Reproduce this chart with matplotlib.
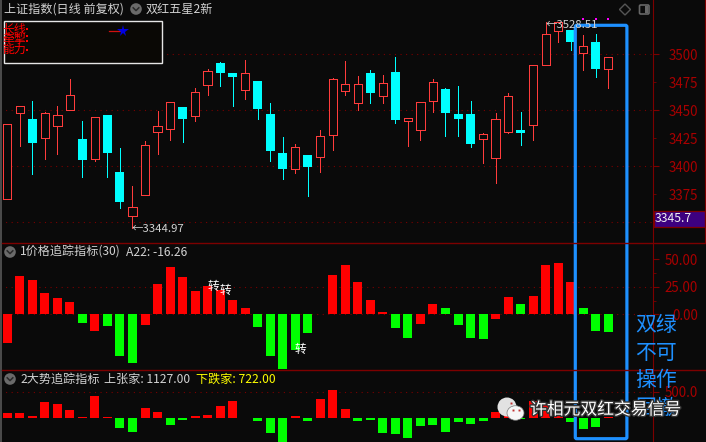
import matplotlib
matplotlib.use('Agg')
import matplotlib.pyplot as plt
import matplotlib.patheffects as pe
from matplotlib.patches import Rectangle, FancyBboxPatch, Circle, Ellipse, Polygon

plt.rcParams['font.family'] = ['Noto Sans CJK SC', 'DejaVu Sans']

# candles
opens = [3370.5, 3447.3, 3442.3, 3425.0, 3435.7, 3450.0, 3424.1, 3406.2, 3445.5, 3394.6,
         3355.4, 3374.1, 3430.4, 3433.0, 3452.7, 3444.6, 3472.3, 3492.0, 3483.0, 3467.9,
         3475.9, 3446.4, 3411.6, 3397.3, 3409.8, 3408.0, 3427.7, 3467.0, 3456.2, 3483.0,
         3462.5, 3483.9, 3440.2, 3432.1, 3458.0, 3468.7, 3446.4, 3446.4, 3424.1, 3407.1,
         3430.4, 3432.1, 3436.6, 3490.2, 3520.5, 3521.4, 3500.9, 3510.7, 3486.6]
closes = [3437.5, 3453.6, 3421.1, 3447.3, 3445.5, 3463.4, 3406.0, 3443.7, 3412.2, 3368.5,
          3364.0, 3418.7, 3435.7, 3457.1, 3442.6, 3466.1, 3484.8, 3483.6, 3480.1, 3483.0,
          3451.5, 3414.0, 3397.9, 3417.0, 3399.7, 3426.8, 3477.7, 3473.2, 3473.2, 3465.8,
          3474.1, 3441.7, 3442.9, 3457.1, 3475.0, 3447.9, 3442.6, 3420.2, 3428.6, 3442.0,
          3462.5, 3430.1, 3490.2, 3517.9, 3528.5, 3511.3, 3507.1, 3487.2, 3497.3]
highs = [3437.5, 3453.6, 3458.0, 3448.2, 3453.6, 3477.7, 3440.2, 3443.7, 3445.5, 3416.1,
         3382.1, 3422.3, 3449.1, 3457.1, 3452.7, 3469.6, 3486.6, 3493.2, 3483.0, 3494.6,
         3475.9, 3456.2, 3425.9, 3419.6, 3409.8, 3432.1, 3478.6, 3493.7, 3480.4, 3485.7,
         3481.2, 3497.3, 3442.9, 3457.1, 3477.7, 3469.6, 3471.4, 3458.0, 3429.5, 3447.3,
         3465.2, 3448.2, 3490.2, 3528.51, 3528.5, 3521.4, 3517.0, 3517.9, 3497.3]
lows = [3370.5, 3418.5, 3393.5, 3406.8, 3411.3, 3450.0, 3390.8, 3405.1, 3390.8, 3363.1,
        3344.97, 3374.1, 3411.3, 3423.8, 3422.0, 3440.2, 3464.0, 3472.0, 3454.2, 3460.4,
        3442.6, 3405.1, 3389.0, 3394.3, 3373.8, 3395.2, 3414.9, 3464.0, 3450.6, 3456.8,
        3456.8, 3439.0, 3418.5, 3423.8, 3448.8, 3427.4, 3427.4, 3417.6, 3403.3, 3385.4,
        3429.5, 3419.3, 3423.8, 3490.2, 3511.3, 3504.2, 3486.3, 3480.1, 3470.2]

# 价格追踪指标
a22 = [-25.8, 34.8, 31.2, 19.4, 14.8, 11.2, -7.6, -14.8, -10.3, -37.6,
       -43.9, -9.4, 27.6, 43.0, 33.9, 21.2, 25.8, 22.1, 13.0, 5.8,
       -11.2, -37.6, -49.4, -32.1, -16.7, 0.6, 35.8, 44.8, 29.4, 13.0,
       2.1, -12.1, -21.2, -8.5, 9.4, 5.8, -9.4, -21.2, -22.1, -3.9,
       15.8, 9.4, 16.7, 44.8, 46.7, 29.4, 5.8, -14.8, -16.26]
a22_colors = list('rrrrrrgrggg' 'rrrrrrrrr' 'ggggg' 'rrrrrr' 'gg' 'r' 'r' 'gggg' 'r' 'r' 'g' 'rrrr' 'ggg')

# 大势追踪指标
breadth = [90, 90, 32, 301, 263, 147, 13, 417, 13, -199,
           -276, 186, 109, -141, -45, 32, 51, 224, 320, -6,
           -64, -295, -480, 32, -64, 359, 532, 167, -64, -45,
           -295, -314, -391, -160, -141, -276, -83, -122, -64, 109,
           51, -25, 320, 244, 83, -83, -218, -180, 19]

price_major = [3400, 3450, 3500]
price_minor = [3375, 3425, 3475]
a22_major = [0, 25, 50]
a22_minor = [12.5, 37.5]

BG = '#0a0a0a'
CANDLE_RED = '#ff3c3c'
CYAN = '#00ffff'
RED = '#ff0000'
GREEN = '#00ff00'
AXIS_RED = '#7d0000'
TICK_TEXT = '#a80000'
BLUE = '#1e90ff'
GRID = dict(color='#7a0000', lw=0.8, ls=(0, (1, 4)))

W, H = 706, 442
AX_RIGHT = 653
fig = plt.figure(figsize=(W / 100, H / 100), dpi=100, facecolor=BG)


def panel(y_top, y_bottom):
    ax = fig.add_axes([0, 1 - y_bottom / H, AX_RIGHT / W, (y_bottom - y_top) / H], facecolor=BG)
    # bar i sits at pixel 7.3 + 12.52 * i
    ax.set_xlim(-7.3 / 12.52, (AX_RIGHT - 7.3) / 12.52)
    ax.set_xticks([])
    for s in ['top', 'left', 'bottom']:
        ax.spines[s].set_visible(False)
    ax.spines['right'].set_color(AXIS_RED)
    ax.yaxis.tick_right()
    ax.tick_params(axis='y', which='major', length=4.3, color=AXIS_RED, labelcolor=TICK_TEXT,
                   labelsize=9.6, pad=28)
    ax.tick_params(axis='y', which='minor', length=2.4, color=AXIS_RED, labelcolor=TICK_TEXT,
                   labelsize=9.6, pad=29.9)
    return ax


def right_align(ax):
    for lab in ax.get_yticklabels() + ax.get_yticklabels(minor=True):
        lab.set_ha('right')


xs = list(range(len(opens)))

# price panel
ax1 = panel(0, 243.3)
ax1.set_ylim(3331.25, 3548.5)
for v in [3350, 3400, 3450, 3500]:
    ax1.axhline(v, zorder=1, **GRID)
for i in xs:
    up = closes[i] > opens[i]
    c = CANDLE_RED if up else CYAN
    ax1.vlines(i, lows[i], highs[i], color=c, lw=0.72, zorder=2, antialiased=False)
    body = abs(closes[i] - opens[i])
    bottom = min(opens[i], closes[i])
    if up:
        ax1.bar(i, body, 0.66, bottom=bottom, facecolor=BG, edgecolor=c, lw=0.72, zorder=3,
                antialiased=False)
    else:
        ax1.bar(i, body, 0.72, bottom=bottom, color=c, lw=0, zorder=3, antialiased=False)
ax1.set_yticks(price_major, labels=[str(v) for v in price_major])
ax1.set_yticks(price_minor, labels=[str(v) for v in price_minor], minor=True)
right_align(ax1)

# first indicator
ax2 = panel(243.3, 370.3)
ax2.set_ylim(-50.9, 64.5)
for v in [0, 25]:
    ax2.axhline(v, zorder=1, **GRID)
ax2.bar(xs, a22, 0.72, color=[RED if c == 'r' else GREEN for c in a22_colors], zorder=2,
        antialiased=False)
ax2.set_yticks(a22_major, labels=['%.2f' % v for v in a22_major])
ax2.set_yticks(a22_minor, labels=['', ''], minor=True)
right_align(ax2)

# second indicator
ax3 = panel(370.3, 442)
ax3.set_ylim(-467, 911.5)
ax3.axhline(500, zorder=1, **GRID)
ax3.bar(xs, breadth, 0.72, color=[RED if v > 0 else GREEN for v in breadth], zorder=2,
        antialiased=False)
ax3.set_yticks([500], labels=['500.0'])
right_align(ax3)

# overlay in pixel coordinates for the terminal furniture
ov = fig.add_axes([0, 0, 1, 1], zorder=10)
ov.set_xlim(0, W)
ov.set_ylim(H, 0)
ov.axis('off')
ov.patch.set_alpha(0)

ov.add_patch(Rectangle((0, 0), 1.6, H, color='#4a4a4a', lw=0))
for y in [243.3, 370.3]:
    ov.plot([1.6, W], [y, y], color=AXIS_RED, lw=1.0)
ov.plot([704.8, 704.8], [0, 243.3], color=AXIS_RED, lw=0.8)


def chevron(x, y):
    ov.add_patch(Circle((x, y), 5.8, color='#6a6a6a', lw=0))
    ov.plot([x - 2.8, x, x + 2.8], [y - 1.2, y + 1.6, y - 1.2], color='#2a2a2a', lw=1.1)


TXT = '#d2d2d2'
ov.text(4, 9.5, '上证指数(日线 前复权)', color=TXT, fontsize=8.7, va='center')
chevron(136, 9)
ov.text(146, 9.5, '双红五星2新', color=TXT, fontsize=8.7, va='center')
chevron(10, 252)
ov.text(20, 252, '1价格追踪指标(30)', color=TXT, fontsize=8.7, va='center')
ov.text(126, 252, 'A22: -16.26', color=TXT, fontsize=8.7, va='center')
chevron(10, 379)
ov.text(20, 379, '2大势追踪指标', color=TXT, fontsize=8.7, va='center')
ov.text(104, 379, '上张家: 1127.00', color=TXT, fontsize=8.7, va='center')
ov.text(196, 379, '下跌家: 722.00', color='#ffff00', fontsize=8.7, va='center')

# legend box top left, its three rows overlap in the terminal as well
ov.add_patch(Rectangle((3.5, 20.5), 158, 42, facecolor='#0a0805', edgecolor='#e6e6e6', lw=1.0))
ov.text(2.5, 29.5, '长线', color=RED, fontsize=8.6, va='center')
ov.text(2.5, 39, '牵掣', color=RED, fontsize=8.6, va='center')
ov.text(2.5, 49.5, '能力', color=RED, fontsize=8.6, va='center')
ov.plot([27, 27, 27, 27], [29, 35.5, 40.5, 50], ls='', marker='s', ms=1.9, mew=0, color=RED)
ov.plot([109, 120], [31.3, 31.3], color='#d01010', lw=0.9)
ov.plot([122.5], [31.3], marker='*', ms=8.5, color='#0000e0', mew=0)

# extreme labels
ov.text(132, 228.5, '←3344.97', color=TXT, fontsize=8.2, va='center')
ov.text(546, 24.5, '←3528.51', color=TXT, fontsize=8.2, va='center')
ov.plot([583, 596, 608], [19, 19, 19], ls='', marker='s', ms=1.9, mew=0, color='#ff00ff')

# top right icons
ov.add_patch(Polygon([(625, 4), (630.5, 9.5), (625, 15), (619.5, 9.5)], fill=False, edgecolor='#555555', lw=1.0))
ov.add_patch(FancyBboxPatch((639.5, 5), 9.5, 9, boxstyle='round,pad=0,rounding_size=1.2',
                            fill=False, edgecolor='#666666', lw=1.2))
ov.add_patch(Rectangle((644.5, 6), 3.5, 7, color='#666666', lw=0))

# current price tag
ov.add_patch(Rectangle((653.5, 210.5), 51, 16, facecolor='#3d0080', edgecolor=AXIS_RED, lw=0.9))
ov.text(654.5, 218, '3345.7', color='#f0f0f0', fontsize=8.8, va='center')

# 转 markers
for x, y in [(213, 286), (225, 290), (300, 349)]:
    ov.text(x, y, '转', color='white', fontsize=8.4, ha='center', va='center')

# hand drawn box and note
ov.add_patch(FancyBboxPatch((575.3, 25.3), 51.6, 413.4, boxstyle='round,pad=0,rounding_size=1.5',
                            fill=False, edgecolor=BLUE, lw=2.3))
for y, line in zip([325, 353, 380, 408], ['双绿', '不可', '操作', '回撤']):
    ov.text(635.5, y, line, color=BLUE, fontsize=15, va='center')

# watermark
ov.add_patch(Ellipse((507, 407), 19, 19, color='#e2e2e2', lw=0))
ov.add_patch(Ellipse((515.5, 413), 17, 14.5, facecolor='#f6f6f6', edgecolor='#777777', lw=0.5))
ov.plot([511, 513, 518.5], [403, 409.5, 409.5], ls='', marker='s', ms=1.4, mew=0, color='#c03030')
ov.text(530, 410, '许相元双红交易信号', color='white', fontsize=12.1, va='center',
        path_effects=[pe.withStroke(linewidth=2, foreground='#333333')])

fig.savefig('out.png', dpi=100, facecolor=BG)
